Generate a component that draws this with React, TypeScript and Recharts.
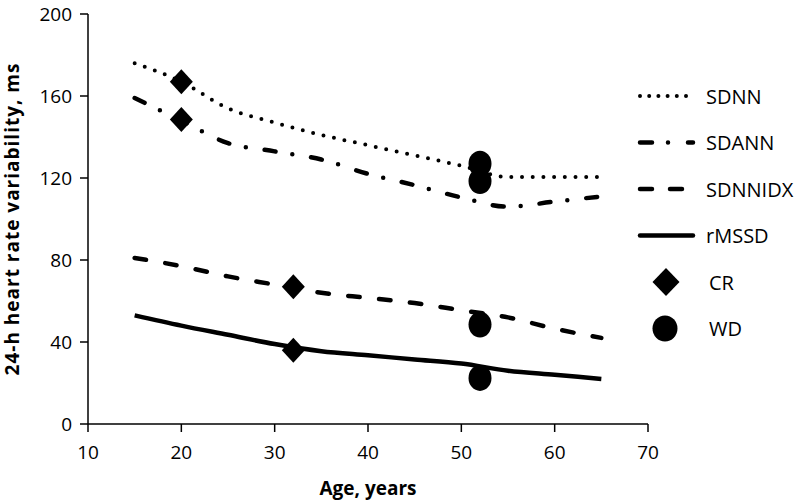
import React from 'react';
import { ComposedChart, Line, Scatter, XAxis, YAxis, Legend, Label } from 'recharts';

const ages = [15, 20, 25, 30, 35, 40, 45, 50, 55, 60, 65];
const sdnn = [176, 167, 154, 147, 141, 136, 131, 126, 120.5, 120.5, 120.5];
const sdann = [159, 148, 137, 133, 129, 122, 116.5, 110.5, 106, 108.5, 111];
const sdnnidx = [81, 77, 72, 68, 64, 61.5, 59, 55.5, 52, 46.5, 42];
const rmssd = [53, 48, 43.5, 39, 35.5, 33.5, 31.5, 29.5, 26, 24, 22];

const crAges = [20, 20, 32, 32];
const crValues = [167, 148.5, 67, 36];
const wdAges = [52, 52, 52, 52];
const wdValues = [127, 118.5, 48.5, 22.5];

const xTicks = [10, 20, 30, 40, 50, 60, 70];
const yTicks = [0, 40, 80, 120, 160, 200];

const lineData = ages.map((a, i) => ({ age: a, sdnn: sdnn[i], sdann: sdann[i], sdnnidx: sdnnidx[i], rmssd: rmssd[i] }));
const crData = crAges.map((a, i) => ({ age: a, v: crValues[i] }));
const wdData = wdAges.map((a, i) => ({ age: a, v: wdValues[i] }));

const FONT = '"Open Sans", sans-serif';

const Diamond = (props: any) => {
  const { cx, cy } = props;
  const w = 11.5, h = 12.5;
  return <polygon points={`${cx},${cy - h} ${cx + w},${cy} ${cx},${cy + h} ${cx - w},${cy}`} fill="#000" />;
};
const Blob = (props: any) => {
  const { cx, cy } = props;
  return <ellipse cx={cx} cy={cy} rx={11.5} ry={13} fill="#000" />;
};

const lineStyles = [
  { key: 'SDNN', dash: '0 9.2', width: 4 },
  { key: 'SDANN', dash: '12 16 0 20', width: 4.5 },
  { key: 'SDNNIDX', dash: '12 18', width: 4.5 },
  { key: 'rMSSD', dash: undefined, width: 4.5 },
];

const LegendContent = () => {
  const rowH = 46.5;
  return (
    <svg width={170} height={280} style={{ display: 'block' }}>
      {lineStyles.map((s, i) => (
        <g key={s.key}>
          <line x1={3} x2={56} y1={14 + i * rowH} y2={14 + i * rowH} stroke="#000" strokeWidth={s.width}
            strokeDasharray={s.dash} strokeLinecap="round" />
          <text x={69} y={14 + i * rowH} dominantBaseline="central" fontFamily={FONT} fontSize={20} fill="#000">{s.key}</text>
        </g>
      ))}
      <polygon points={`29,${14 + 4 * rowH - 14} 42.5,${14 + 4 * rowH} 29,${14 + 4 * rowH + 14} 15.5,${14 + 4 * rowH}`} fill="#000" />
      <text x={72} y={14 + 4 * rowH} dominantBaseline="central" fontFamily={FONT} fontSize={20} fill="#000">CR</text>
      <ellipse cx={28} cy={14 + 5 * rowH} rx={12.5} ry={13} fill="#000" />
      <text x={72} y={14 + 5 * rowH} dominantBaseline="central" fontFamily={FONT} fontSize={20} fill="#000">WD</text>
    </svg>
  );
};

export default function App() {
  return (
    <div style={{ position: 'absolute', left: 0, top: 0, width: 800, height: 502, background: '#fff' }}>
      <ComposedChart width={800} height={502} data={lineData} margin={{ top: 14, right: 152, bottom: 28, left: 28 }}>
        <XAxis dataKey="age" type="number" domain={[10, 70]} ticks={xTicks} tickSize={8}
          axisLine={{ stroke: '#000', strokeWidth: 1.5 }} tickLine={{ stroke: '#000', strokeWidth: 1.5 }}
          tick={{ fill: '#000', fontSize: 19, fontFamily: FONT, dy: 12 }} height={50} allowDuplicatedCategory={false}>
          <Label value="Age, years" position="insideBottom" offset={-21} style={{ fontFamily: FONT, fontSize: 19, fontWeight: 700, fill: '#000' }} />
        </XAxis>
        <YAxis type="number" domain={[0, 200]} ticks={yTicks} tickSize={8} width={60}
          axisLine={{ stroke: '#000', strokeWidth: 1.5 }} tickLine={{ stroke: '#000', strokeWidth: 1.5 }}
          tick={{ fill: '#000', fontSize: 19, fontFamily: FONT, dx: -6 }}>
          <Label value="24-h heart  rate variability, ms" angle={-90} position="insideLeft" offset={-16}
            style={{ fontFamily: FONT, fontSize: 19, fontWeight: 700, letterSpacing: 1, fill: '#000', textAnchor: 'middle', whiteSpace: 'pre' }} />
        </YAxis>
        <Legend layout="vertical" align="center" verticalAlign="middle" content={<LegendContent />}
          wrapperStyle={{ left: 637, top: 82, width: 170, height: 280 }} />
        <Line type="monotone" dataKey="sdnn" stroke="#000" strokeWidth={4} strokeDasharray="0 10.7" strokeLinecap="round" dot={false} isAnimationActive={false} />
        <Line type="monotone" dataKey="sdann" stroke="#000" strokeWidth={4.5} strokeDasharray="11 17 0 19" strokeLinecap="round" dot={false} isAnimationActive={false} />
        <Line type="monotone" dataKey="sdnnidx" stroke="#000" strokeWidth={4.5} strokeDasharray="11.5 19.5" strokeLinecap="round" dot={false} isAnimationActive={false} />
        <Line type="monotone" dataKey="rmssd" stroke="#000" strokeWidth={4.5} dot={false} isAnimationActive={false} />
        <Scatter data={crData} dataKey="v" shape={<Diamond />} isAnimationActive={false} />
        <Scatter data={wdData} dataKey="v" shape={<Blob />} isAnimationActive={false} />
      </ComposedChart>
    </div>
  );
}
